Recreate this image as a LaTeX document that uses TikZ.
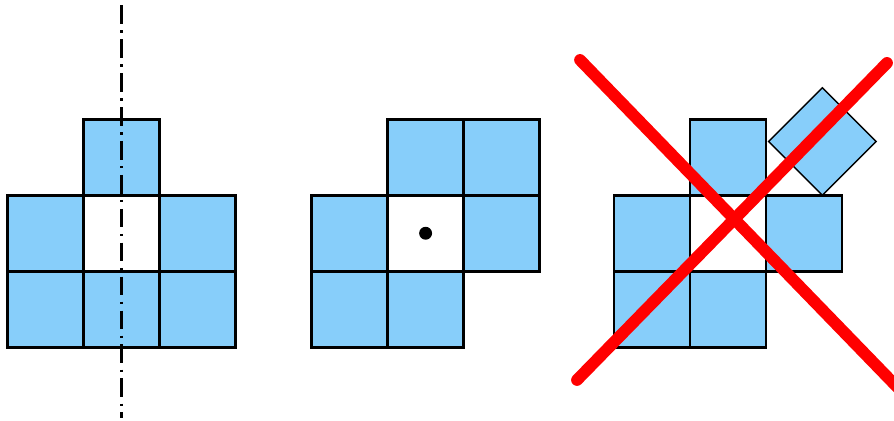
\documentclass[tikz,border=0pt]{standalone}
\definecolor{cellblue}{RGB}{135,206,250}
\begin{document}
\begin{tikzpicture}[
		cell/.style={rectangle, draw, fill=cellblue, line width=1pt, minimum size=1cm, inner sep=0pt, outer sep=0pt},
		hole/.style={cell, fill=white},
		axis/.style={line width=0.9pt, dash pattern=on 7pt off 2.4pt on 0.9pt off 2.4pt},
		cross/.style={red, line width=4.4pt, line cap=round}
	]
		\useasboundingbox (0,0) rectangle (11.763,5.539);
		\clip (0,0) rectangle (11.763,5.539);
		
		% Symmetric figure with its axis
		\node[cell] (s12) at (1.6,3.47) {};
		\node[cell] (s21) at (0.6,2.47) {};
		\node[hole] (s22) at (1.6,2.47) {};
		\node[cell] (s23) at (2.6,2.47) {};
		\node[cell] (s31) at (0.6,1.47) {};
		\node[cell] (s32) at (1.6,1.47) {};
		\node[cell] (s33) at (2.6,1.47) {};
		\coordinate (axtop) at (1.6,5.47);
		\coordinate (axbot) at (1.6,0.04);
		\draw[axis] (axtop) -- (axbot);
		
		% Figure with a centre point
		\node[cell] (p12) at (5.6,3.47) {};
		\node[cell] (p13) at (6.6,3.47) {};
		\node[cell] (p21) at (4.6,2.47) {};
		\node[hole] (p22) at (5.6,2.47) {};
		\node[cell] (p23) at (6.6,2.47) {};
		\node[cell] (p31) at (4.6,1.47) {};
		\node[cell] (p32) at (5.6,1.47) {};
		\node[circle, fill=black, minimum size=0.17cm, inner sep=0pt] (ctr) at (p22) {};
		
		% Wrong figure, crossed out
		\node[cell] (w12) at (9.58,3.47) {};
		\node[cell] (w21) at (8.58,2.47) {};
		\node[hole] (w22) at (9.58,2.47) {};
		\node[cell] (w23) at (10.58,2.47) {};
		\node[cell] (w31) at (8.58,1.47) {};
		\node[cell] (w32) at (9.58,1.47) {};
		\node[cell, rotate=45, line width=0.5pt] (wtilt) at (10.82,3.677) {};
		
		\coordinate (xa1) at (7.632,4.750);
		\coordinate (xa2) at (11.842,0.408);
		\coordinate (xb1) at (7.592,0.539);
		\coordinate (xb2) at (11.671,4.711);
		\draw[cross] (xa1) -- (xa2);
		\draw[cross] (xb1) -- (xb2);
	\end{tikzpicture}
\end{document}
